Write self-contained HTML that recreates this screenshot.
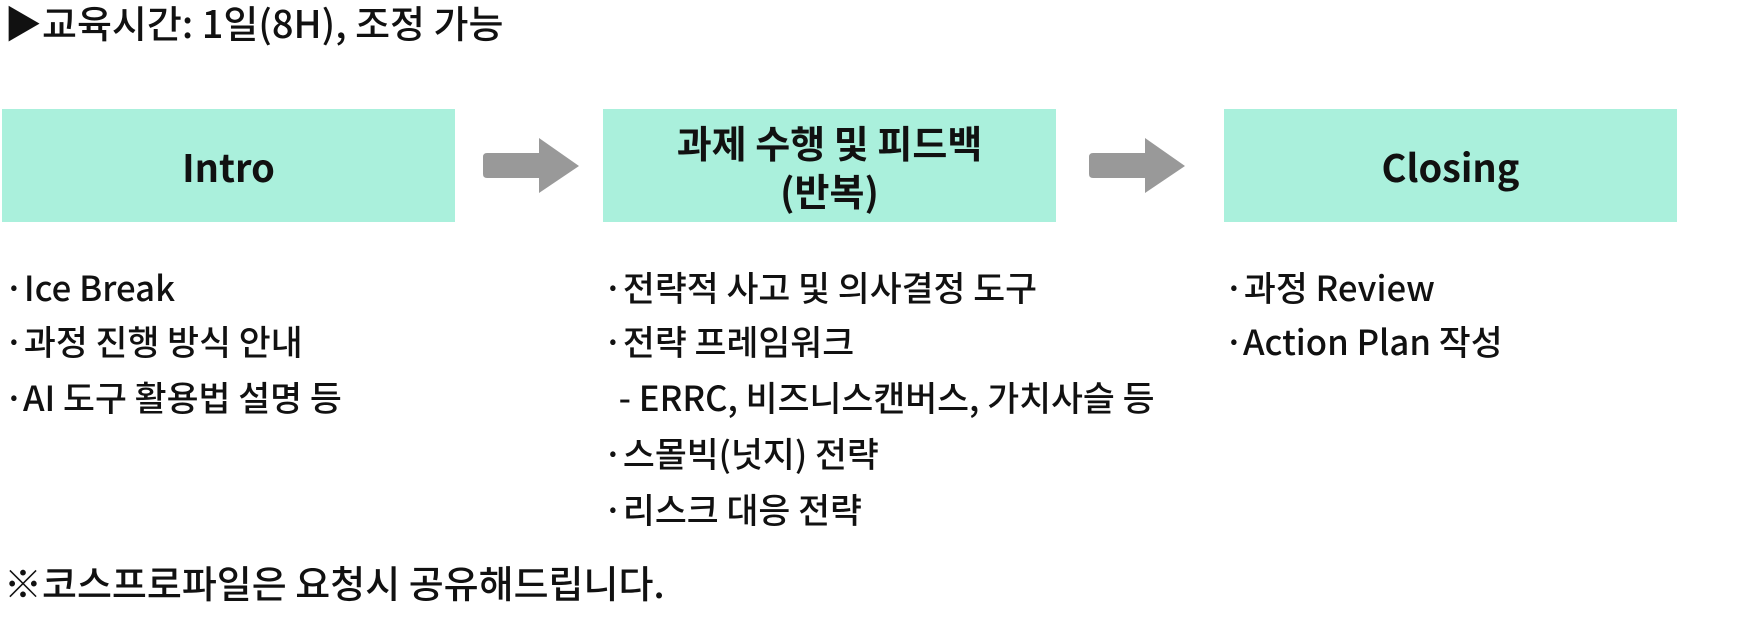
<!DOCTYPE html>
<html><head><meta charset="utf-8"><style>
body{margin:0;width:1751px;height:637px;background:#fff;position:relative;overflow:hidden;font-family:"Liberation Sans","Noto Sans CJK KR",sans-serif;color:#111}
.t{position:absolute;white-space:nowrap;font-family:"Noto Sans CJK KR",sans-serif;font-weight:500;line-height:1}
.box{position:absolute;top:109px;height:113px;width:453px;background:#aaf0dc;display:flex;align-items:center;justify-content:center;text-align:center;font-family:"Noto Sans CJK KR",sans-serif;font-weight:700;font-size:38px;line-height:1.25}
.b{font-size:34.7px}
</style></head><body>
<div class="t" style="left:4px;top:3px;font-size:38px">▶교육시간: 1일(8H), 조정 가능</div>
<div class="box" style="left:2px">Intro</div>
<div class="box" style="left:603px">과제 수행 및 피드백<br>(반복)</div>
<div class="box" style="left:1224px">Closing</div>
<svg style="position:absolute;left:0;top:0" width="1751" height="637">
<path d="M487 153 H539 V138 L579 166 L539 193 V178 H487 Q483 178 483 174 V157 Q483 153 487 153Z" fill="#999"/>
<path d="M1093 153 H1145 V138 L1185 166 L1145 193 V178 H1093 Q1089 178 1089 174 V157 Q1089 153 1093 153Z" fill="#999"/>
</svg>
<div class="t b" style="left:4px;top:269px">·Ice Break</div>
<div class="t b" style="left:4px;top:323px">·과정 진행 방식 안내</div>
<div class="t b" style="left:4px;top:379px">·AI 도구 활용법 설명 등</div>
<div class="t b" style="left:603px;top:269px">·전략적 사고 및 의사결정 도구</div>
<div class="t b" style="left:603px;top:323px">·전략 프레임워크</div>
<div class="t b" style="left:603px;top:379px">&nbsp;&nbsp;- ERRC, 비즈니스캔버스, 가치사슬 등</div>
<div class="t b" style="left:603px;top:435px">·스몰빅(넛지) 전략</div>
<div class="t b" style="left:603px;top:491px">·리스크 대응 전략</div>
<div class="t b" style="left:1224px;top:269px">·과정 Review</div>
<div class="t b" style="left:1224px;top:323px">·Action Plan 작성</div>
<div class="t" style="left:4px;top:563px;font-size:38px">※코스프로파일은 요청시 공유해드립니다.</div>
</body></html>
